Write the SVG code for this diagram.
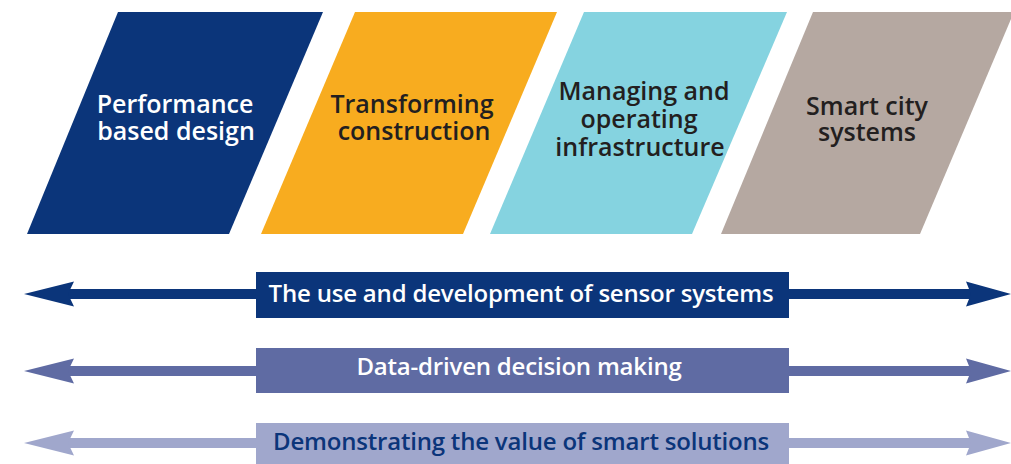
<svg xmlns="http://www.w3.org/2000/svg" width="1011" height="464" viewBox="0 0 1011 464">
  <style>
    .lbl { font-family: "Open Sans", "Liberation Sans", sans-serif; font-weight: 600; font-size: 25px; text-anchor: middle; }
    .band { font-size: 24px; letter-spacing: -0.2px; }
    .light { fill: #ffffff; }
    .dark { fill: #231f20; }
    .navy { fill: #0b357a; }
  </style>
  <rect width="1011" height="464" fill="#ffffff"/>

  <!-- Top row: four slanted stage panels -->
  <g id="node-performance">
    <polygon points="118,12 323,12 229,234 27,234" fill="#0b357a"/>
    <text class="lbl light" x="175" y="113">Performance</text>
    <text class="lbl light" x="176" y="140">based design</text>
  </g>
  <g id="node-construction">
    <polygon points="355,12 557,12 463,234 261,234" fill="#f8ac1f"/>
    <text class="lbl dark" x="412" y="113">Transforming</text>
    <text class="lbl dark" x="414" y="140">construction</text>
  </g>
  <g id="node-infrastructure">
    <polygon points="584,12 787,12 692,234 490,234" fill="#85d3e0"/>
    <text class="lbl dark" x="644" y="100">Managing and</text>
    <text class="lbl dark" x="639" y="128">operating</text>
    <text class="lbl dark" x="640" y="156">infrastructure</text>
  </g>
  <g id="node-smartcity">
    <polygon points="813,12 1014,12 920,234 721,234" fill="#b5a8a1"/>
    <text class="lbl dark" x="867" y="115">Smart city</text>
    <text class="lbl dark" x="867" y="141">systems</text>
  </g>

  <!-- Bottom rows: double-headed spans running across all stages -->
  <g id="connectors">
    <g fill="#0b357a">
      <rect x="62" y="289" width="916" height="10"/>
      <polygon points="24,294 74,281.5 68,294 74,306.5"/>
      <polygon points="1011,294 966,281.5 971,294 966,306.5"/>
    </g>
    <g fill="#5f6ba3">
      <rect x="62" y="366" width="916" height="10"/>
      <polygon points="24,371 74,358.5 68,371 74,383.5"/>
      <polygon points="1011,371 966,358.5 971,371 966,383.5"/>
    </g>
    <g fill="#a0a7cc">
      <rect x="62" y="438" width="916" height="10"/>
      <polygon points="24,443 74,430.5 68,443 74,455.5"/>
      <polygon points="1011,443 966,430.5 971,443 966,455.5"/>
    </g>
  </g>

  <g id="node-sensors">
    <rect x="256" y="272" width="533" height="46" fill="#0b357a"/>
    <text class="lbl band light" x="521" y="302">The use and development of sensor systems</text>
  </g>
  <g id="node-data">
    <rect x="256" y="348" width="533" height="45" fill="#5f6ba3"/>
    <text class="lbl band light" x="519" y="375">Data-driven decision making</text>
  </g>
  <g id="node-value">
    <rect x="256" y="423" width="533" height="41" fill="#a0a7cc"/>
    <text class="lbl band navy" x="521" y="450">Demonstrating the value of smart solutions</text>
  </g>
</svg>
